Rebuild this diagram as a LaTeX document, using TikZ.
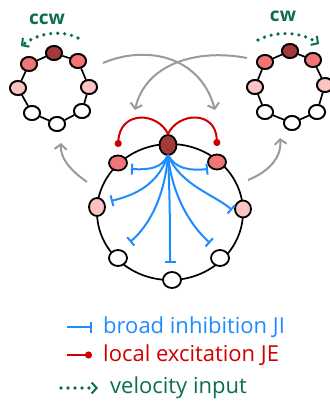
\documentclass[tikz,border=0pt]{standalone}
\usepackage{fontspec}
\setmainfont{Open Sans}
\usetikzlibrary{arrows.meta,shapes.geometric}

\definecolor{hot}{HTML}{A33A3A}
\definecolor{warm}{HTML}{F27474}
\definecolor{mild}{HTML}{FCC3C3}
\definecolor{exc}{HTML}{D00000}
\definecolor{inh}{HTML}{1E8CFF}
\definecolor{vel}{HTML}{0B6E4F}
\definecolor{flow}{HTML}{9A9A9A}

\tikzset{
  unit/.style={ellipse, draw=black, line width=1.8pt, minimum width=16pt, minimum height=14pt, inner sep=0pt, fill=white},
  hotunit/.style={unit, fill=hot},
  warmunit/.style={unit, fill=warm},
  mildunit/.style={unit, fill=mild},
  ringline/.style={black, line width=1.7pt},
  inhib/.style={inh, line width=2pt, -{Bar[width=11pt,line width=2pt]}},
  excit/.style={exc, line width=2pt, -{Circle[length=7pt]}},
  velo/.style={vel, line width=3.6pt, line cap=round, dash pattern=on 0pt off 7pt, -{Straight Barb[length=5pt,width=11pt,line width=2pt]}},
  flowarrow/.style={flow, line width=2pt, -{Straight Barb[length=5pt,width=12pt,line width=2pt]}},
  tag/.style={anchor=west, font=\fontsize{22}{24}\selectfont, inner sep=0pt},
  dirtag/.style={vel, font=\fontsize{19}{20}\selectfont\bfseries, inner sep=0pt}
}

\begin{document}
\begin{tikzpicture}[x=1pt,y=-1pt]
\useasboundingbox (0,0) rectangle (329,406);

% ---- left ring (bump moving counter-clockwise)
\node[hotunit]  (L1) at (54,53) {};
\node[warmunit] (L2) at (78,61) {};
\node[mildunit] (L3) at (89,87) {};
\node[unit]     (L4) at (82,111) {};
\node[unit]     (L5) at (57,124) {};
\node[unit]     (L6) at (32,113) {};
\node[mildunit] (L7) at (18,88) {};
\node[warmunit] (L8) at (29,64) {};
\draw[ringline] (L1) -- (L2) -- (L3) -- (L4) -- (L5) -- (L6) -- (L7) -- (L8) -- (L1);
\foreach \n/\s in {L1/hotunit,L2/warmunit,L3/mildunit,L4/unit,L5/unit,L6/unit,L7/mildunit,L8/warmunit}
  \node[\s] at (\n) {};

% ---- right ring (bump moving clockwise)
\node[hotunit]  (R1) at (290,51) {};
\node[warmunit] (R2) at (313,60) {};
\node[mildunit] (R3) at (325,85) {};
\node[unit]     (R4) at (317,112) {};
\node[unit]     (R5) at (292,123) {};
\node[unit]     (R6) at (265,112) {};
\node[mildunit] (R7) at (255,87) {};
\node[warmunit] (R8) at (265,62) {};
\draw[ringline] (R1) -- (R2) -- (R3) -- (R4) -- (R5) -- (R6) -- (R7) -- (R8) -- (R1);
\foreach \n/\s in {R1/hotunit,R2/warmunit,R3/mildunit,R4/unit,R5/unit,R6/unit,R7/mildunit,R8/warmunit}
  \node[\s] at (\n) {};

% ---- velocity labels and dotted inputs
\node[dirtag] (ccw) at (47,19) {ccw};
\node[dirtag] (cw) at (283,16) {cw};
\coordinate (ccwA) at (78,38);
\coordinate (ccwB) at (21,46);
\coordinate (cwA) at (258,40);
\coordinate (cwB) at (319,44);
\draw[velo] (ccwA) .. controls (62,30) and (40,32) .. (ccwB);
\draw[velo] (cwA) .. controls (275,31) and (300,31) .. (cwB);

% ---- central ring
\coordinate (ctr) at (170,212);
\draw[ringline] (ctr) ellipse [x radius=73, y radius=68];
\node[hotunit, minimum width=17pt, minimum height=20pt] (C1) at (168,145) {};
\node[warmunit, minimum width=18pt, minimum height=15pt] (C2) at (118,163) {};
\node[mildunit, minimum height=18pt] (C3) at (97,207) {};
\node[unit, minimum width=18pt, minimum height=16pt] (C4) at (118,258) {};
\node[unit, minimum width=18pt, minimum height=16pt] (C5) at (172,280) {};
\node[unit, minimum width=18pt, minimum height=16pt] (C6) at (220,258) {};
\node[mildunit, minimum height=17pt] (C7) at (243,209) {};
\node[warmunit, minimum width=18pt, minimum height=15pt] (C8) at (217,162) {};

% local excitation to the two neighbours
\coordinate (eL) at (118,147);
\coordinate (eR) at (217,146);
\draw[excit] (C1.north) .. controls (158,112) and (120,110) .. (eL);
\draw[excit] (C1.north) .. controls (178,112) and (216,110) .. (eR);

% broad inhibition to the rest of the ring
\coordinate (s) at (168,155);
\coordinate (iC2) at (131,169);
\coordinate (iC8) at (208,169);
\coordinate (iC3) at (111,201);
\coordinate (iC7) at (232,210);
\coordinate (iC4) at (130,242);
\coordinate (iC5) at (170,263);
\coordinate (iC6) at (210,243);
\draw[inhib] (s) .. controls (162,168) and (150,170) .. (iC2);
\draw[inhib] (s) .. controls (175,168) and (188,171) .. (iC8);
\draw[inhib] (s) .. controls (158,185) and (135,195) .. (iC3);
\draw[inhib] (s) .. controls (180,185) and (215,195) .. (iC7);
\draw[inhib] (s) .. controls (165,195) and (150,225) .. (iC4);
\draw[inhib] (s) .. controls (170,200) and (170,230) .. (iC5);
\draw[inhib] (s) .. controls (172,195) and (190,225) .. (iC6);

% ---- shifts between states
\coordinate (gA) at (103,63);
\coordinate (gB) at (215,110);
\coordinate (gC) at (247,58);
\coordinate (gD) at (135,110);
\coordinate (gE) at (87,182);
\coordinate (gF) at (61,143);
\coordinate (gG) at (248,180);
\coordinate (gH) at (280,138);
\draw[flowarrow] (gA) .. controls (145,45) and (200,55) .. (gB);
\draw[flowarrow] (gC) .. controls (195,48) and (145,65) .. (gD);
\draw[flowarrow] (gE) .. controls (70,170) and (60,158) .. (gF);
\draw[flowarrow] (gG) .. controls (268,172) and (282,158) .. (gH);

% ---- legend
\coordinate (k1a) at (67,327);
\coordinate (k1b) at (92,327);
\coordinate (k2a) at (67,355);
\coordinate (k2b) at (92,355);
\coordinate (k3a) at (61,388);
\coordinate (k3b) at (98,388);
\draw[inhib] (k1a) -- (k1b);
\draw[excit] (k2a) -- (k2b);
\draw[velo] (k3a) -- (k3b);
\node[tag, inh] (t1) at (103,327) {broad inhibition JI};
\node[tag, exc] (t2) at (103,355) {local excitation JE};
\node[tag, vel] (t3) at (110,388) {velocity input};
\end{tikzpicture}
\end{document}
